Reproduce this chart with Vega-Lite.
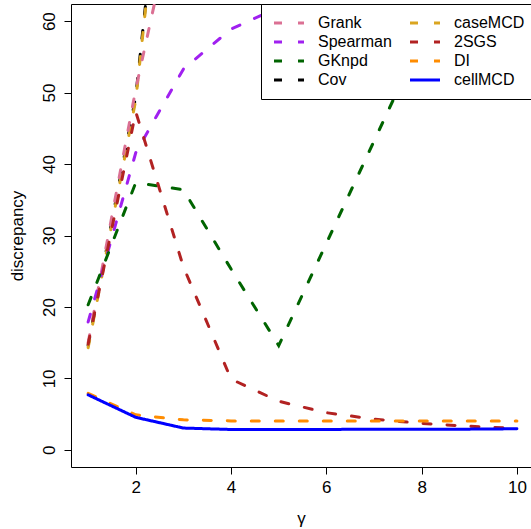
{
  "$schema": "https://vega.github.io/schema/vega-lite/v6.json",
  "width": 460,
  "height": 463,
  "autosize": {"type": "none"},
  "padding": {"left": 71, "top": 4, "right": 0, "bottom": 62},
  "config": {
    "view": {"stroke": null},
    "font": "Liberation Sans",
    "axis": {
      "grid": false,
      "domainColor": "black",
      "domainWidth": 1,
      "tickColor": "black",
      "tickSize": 7,
      "labelColor": "black",
      "labelFontSize": 17,
      "labelFont": "Liberation Sans",
      "titleFont": "Liberation Sans",
      "titleFontSize": 17,
      "titleFontWeight": "normal",
      "titleColor": "black"
    }
  },
  "data": {
    "values": [
      {"gamma": 1, "value": 14.6, "method": "Cov"},
      {"gamma": 2, "value": 49.5, "method": "Cov"},
      {"gamma": 3, "value": 112, "method": "Cov"},
      {"gamma": 1, "value": 14.3, "method": "caseMCD"},
      {"gamma": 2, "value": 49.0, "method": "caseMCD"},
      {"gamma": 3, "value": 111, "method": "caseMCD"},
      {"gamma": 1, "value": 15.0, "method": "Grank"},
      {"gamma": 2, "value": 50.5, "method": "Grank"},
      {"gamma": 3, "value": 81, "method": "Grank"},
      {"gamma": 1, "value": 17.9, "method": "Spearman"},
      {"gamma": 2, "value": 41.6, "method": "Spearman"},
      {"gamma": 3, "value": 53.3, "method": "Spearman"},
      {"gamma": 4, "value": 58.9, "method": "Spearman"},
      {"gamma": 5, "value": 61.9, "method": "Spearman"},
      {"gamma": 6, "value": 64.0, "method": "Spearman"},
      {"gamma": 1, "value": 20.3, "method": "GKnpd"},
      {"gamma": 2, "value": 37.4, "method": "GKnpd"},
      {"gamma": 3, "value": 36.4, "method": "GKnpd"},
      {"gamma": 4, "value": 25.3, "method": "GKnpd"},
      {"gamma": 5, "value": 14.6, "method": "GKnpd"},
      {"gamma": 6, "value": 28.9, "method": "GKnpd"},
      {"gamma": 7, "value": 43.2, "method": "GKnpd"},
      {"gamma": 8, "value": 57.5, "method": "GKnpd"},
      {"gamma": 9, "value": 71.8, "method": "GKnpd"},
      {"gamma": 1, "value": 14.8, "method": "2SGS"},
      {"gamma": 2, "value": 47.3, "method": "2SGS"},
      {"gamma": 3, "value": 25.6, "method": "2SGS"},
      {"gamma": 4, "value": 9.9, "method": "2SGS"},
      {"gamma": 5, "value": 6.8, "method": "2SGS"},
      {"gamma": 6, "value": 5.2, "method": "2SGS"},
      {"gamma": 7, "value": 4.3, "method": "2SGS"},
      {"gamma": 8, "value": 3.7, "method": "2SGS"},
      {"gamma": 9, "value": 3.3, "method": "2SGS"},
      {"gamma": 10, "value": 3.0, "method": "2SGS"},
      {"gamma": 1, "value": 7.9, "method": "DI"},
      {"gamma": 2, "value": 4.9, "method": "DI"},
      {"gamma": 3, "value": 4.2, "method": "DI"},
      {"gamma": 4, "value": 4.05, "method": "DI"},
      {"gamma": 5, "value": 4.05, "method": "DI"},
      {"gamma": 6, "value": 4.05, "method": "DI"},
      {"gamma": 7, "value": 4.05, "method": "DI"},
      {"gamma": 8, "value": 4.05, "method": "DI"},
      {"gamma": 9, "value": 4.05, "method": "DI"},
      {"gamma": 10, "value": 4.05, "method": "DI"},
      {"gamma": 1, "value": 7.7, "method": "cellMCD"},
      {"gamma": 2, "value": 4.55, "method": "cellMCD"},
      {"gamma": 3, "value": 3.05, "method": "cellMCD"},
      {"gamma": 4, "value": 2.85, "method": "cellMCD"},
      {"gamma": 5, "value": 2.85, "method": "cellMCD"},
      {"gamma": 6, "value": 2.85, "method": "cellMCD"},
      {"gamma": 7, "value": 2.9, "method": "cellMCD"},
      {"gamma": 8, "value": 2.9, "method": "cellMCD"},
      {"gamma": 9, "value": 2.9, "method": "cellMCD"},
      {"gamma": 10, "value": 2.95, "method": "cellMCD"}
    ]
  },
  "resolve": {"axis": {"x": "independent"}},
  "layer": [
    {
      "mark": {"type": "line", "clip": true, "strokeWidth": 3, "strokeCap": "round"},
      "encoding": {
        "x": {
          "field": "gamma", "type": "quantitative",
          "scale": {"domain": [0.64, 10.296], "nice": false, "zero": false},
          "axis": {"orient": "bottom", "values": [2, 4, 6, 8, 10], "title": "γ", "labelPadding": 5, "titlePadding": 15}
        },
        "y": {
          "field": "value", "type": "quantitative",
          "scale": {"domain": [-2.4, 62.4], "nice": false, "zero": false},
          "axis": {"values": [0, 10, 20, 30, 40, 50, 60], "title": "discrepancy", "labelAngle": 270, "labelPadding": 6, "titlePadding": 14}
        },
        "color": {
          "field": "method", "type": "nominal",
          "scale": {
            "domain": ["Grank", "Spearman", "GKnpd", "Cov", "caseMCD", "2SGS", "DI", "cellMCD"],
            "range": ["#DB7093", "#A020F0", "#006400", "#000000", "#DAA520", "#B22222", "#FF8C00", "#0000FF"]
          },
          "legend": {
            "title": null,
            "orient": "none",
            "legendX": 190,
            "legendY": 0,
            "columns": 2,
            "symbolType": "M-1,0H4",
            "symbolSize": 144,
            "symbolStrokeWidth": 3,
            "labelFontSize": 16,
            "labelFont": "Liberation Sans",
            "labelColor": "black",
            "labelOffset": 30,
            "columnPadding": 12,
            "rowPadding": 3,
            "padding": 11,
            "fillColor": "white",
            "strokeColor": "black",
            "encode": {
              "symbols": {"update": {"strokeDash": {"signal": "datum.value === 'cellMCD' ? [1, 0] : [10, 10]"}, "strokeCap": {"value": "butt"}}}
            }
          }
        },
        "strokeDash": {
          "field": "method", "type": "nominal",
          "scale": {
            "domain": ["Grank", "Spearman", "GKnpd", "Cov", "caseMCD", "2SGS", "DI", "cellMCD"],
            "range": [[8, 16], [8, 16], [8, 16], [8, 16], [8, 16], [8, 16], [8, 16], [1, 0]]
          },
          "legend": null
        }
      }
    },
    {
      "mark": {"type": "point", "opacity": 0},
      "encoding": {
        "x": {
          "field": "gamma", "type": "quantitative",
          "axis": {"orient": "top", "labels": false, "ticks": false, "title": null}
        }
      }
    }
  ]
}
